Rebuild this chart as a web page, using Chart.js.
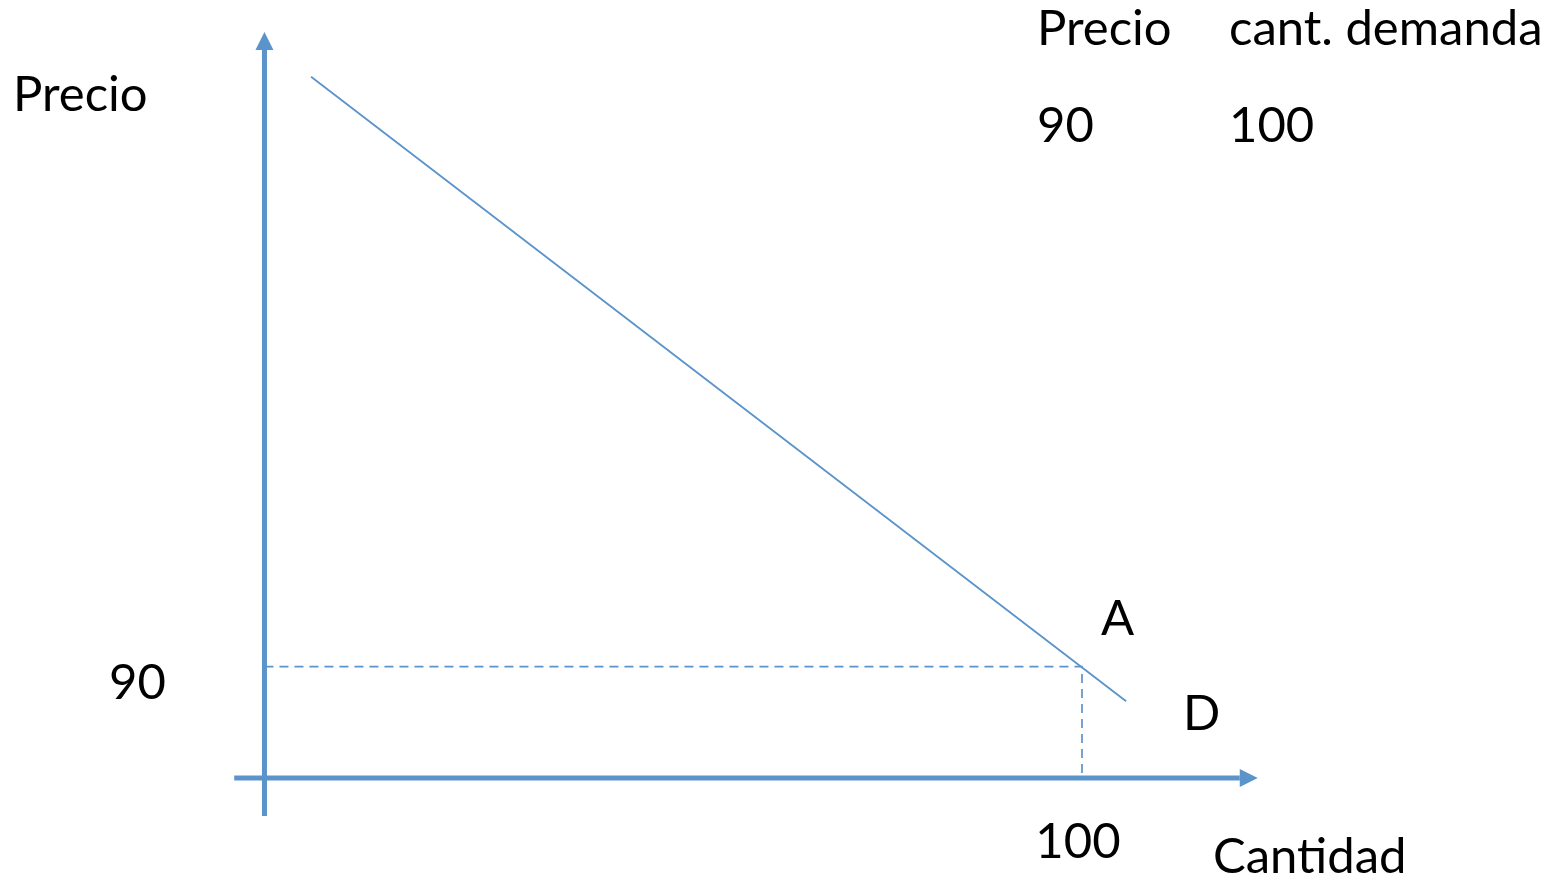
<!DOCTYPE html>
<html>
<head>
<meta charset="utf-8">
<script src="https://cdn.jsdelivr.net/npm/chart.js@4/dist/chart.umd.min.js"></script>
<style>
    body { margin: 0; background: #fff; }
    #wrap { width: 1564px; height: 879px; position: relative; }
</style>
</head>
<body>
<div id="wrap"><canvas id="demanda"></canvas></div>
<script>
// datos del grafico
var priceLevel = [90]
var quantityLevel = [100]
var demandQty = [5.7, 105.4]
var demandPrice = [566, 62]
var tableHeaders = ['Precio', 'cant. demanda']
var tableRow = ['90', '100']
var yTitle = 'Precio'
var xTitle = 'Cantidad'
var pointLabel = 'A'
var curveLabel = 'D'

// extremos de los ejes (en unidades del grafico)
var xAxisRange = [-3.7, 119.3]
var yAxisRange = [-30.7, 587.6]

var blue = '#5b93cb'
var font = '49px Lato, "Open Sans", sans-serif'

function toPoints(xs, ys) {
    var pts = []
    for (var i = 0; i < xs.length; i++) {
        pts.push({ x: xs[i], y: ys[i] })
    }
    return pts
}

var arrowsAndText = {
    id: 'arrowsAndText',
    afterDatasetsDraw: function (chart) {
        var ctx = chart.ctx
        var sx = chart.scales.x
        var sy = chart.scales.y
        var x0 = sx.getPixelForValue(0)
        var y0 = sy.getPixelForValue(0)

        // flechas de los ejes
        ctx.save()
        ctx.fillStyle = blue
        var yTop = sy.getPixelForValue(yAxisRange[1])
        ctx.beginPath()
        ctx.moveTo(x0 - 9, yTop)
        ctx.lineTo(x0 + 9, yTop)
        ctx.lineTo(x0, yTop - 18)
        ctx.closePath()
        ctx.fill()
        var xEnd = sx.getPixelForValue(xAxisRange[1])
        ctx.beginPath()
        ctx.moveTo(xEnd, y0 - 9)
        ctx.lineTo(xEnd, y0 + 9)
        ctx.lineTo(xEnd + 18, y0)
        ctx.closePath()
        ctx.fill()

        // textos
        ctx.fillStyle = '#000'
        ctx.font = font
        ctx.textBaseline = 'alphabetic'
        ctx.textAlign = 'left'
        ctx.fillText(yTitle, 13, 111)
        ctx.fillText(xTitle, 1213, 873)

        var py = sy.getPixelForValue(priceLevel[0])
        ctx.fillText(String(priceLevel[0]), 109, py + 32)
        var qx = sx.getPixelForValue(quantityLevel[0])
        ctx.textAlign = 'center'
        ctx.fillText(String(quantityLevel[0]), qx - 4, 858)

        ctx.textAlign = 'left'
        ctx.fillText(pointLabel, qx + 19, 635)
        ctx.fillText(curveLabel, 1183, 730)

        ctx.fillText(tableHeaders[0], 1037, 45)
        ctx.fillText(tableHeaders[1], 1229, 45)
        ctx.fillText(tableRow[0], 1037, 142)
        ctx.fillText(tableRow[1], 1229, 142)
        ctx.restore()
    }
}

var config = {
    type: 'scatter',
    data: {
        datasets: [
            {
                // linea de demanda
                data: toPoints(demandQty, demandPrice),
                showLine: true,
                borderColor: blue,
                borderWidth: 1.8,
                pointRadius: 0
            },
            {
                data: [{ x: 0, y: priceLevel[0] }, { x: quantityLevel[0], y: priceLevel[0] }, { x: quantityLevel[0], y: 0 }],
                showLine: true,
                borderColor: blue,
                borderWidth: 1.7,
                borderDash: [9, 6],
                pointRadius: 0
            },
            {
                // eje y
                data: [{ x: 0, y: yAxisRange[0] }, { x: 0, y: yAxisRange[1] }],
                showLine: true,
                borderColor: blue,
                borderWidth: 5,
                pointRadius: 0
            },
            {
                // eje x
                data: [{ x: xAxisRange[0], y: 0 }, { x: xAxisRange[1], y: 0 }],
                showLine: true,
                borderColor: blue,
                borderWidth: 5,
                pointRadius: 0
            }
        ]
    },
    options: {
        responsive: true,
        maintainAspectRatio: false,
        animation: false,
        layout: { padding: 0 },
        plugins: {
            legend: { display: false },
            tooltip: { enabled: false }
        },
        scales: {
            x: { type: 'linear', display: false, min: -32.35, max: 158.96 },
            y: { type: 'linear', display: false, min: -81.5, max: 628.0 }
        }
    },
    plugins: [arrowsAndText]
}

var myChart = new Chart(document.getElementById('demanda'), config)
</script>
</body>
</html>
